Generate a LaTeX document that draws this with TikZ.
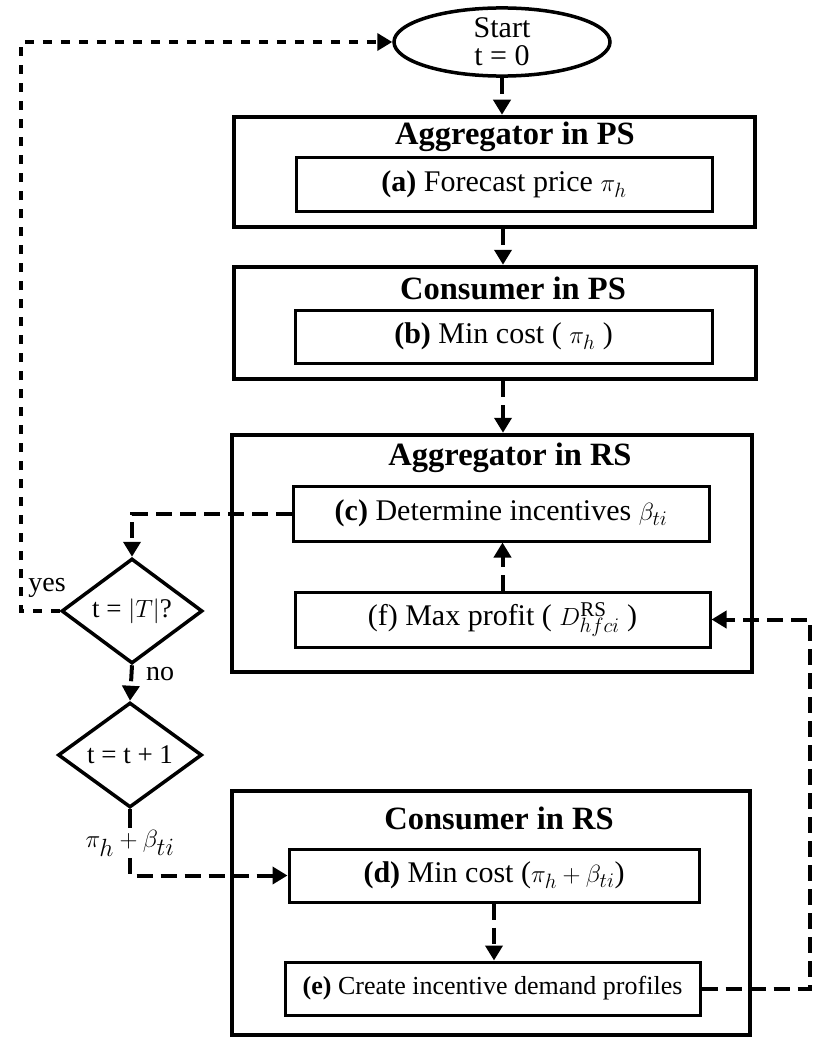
\documentclass[tikz,border=0pt]{standalone}
\usepackage{fontspec}
\setmainfont{Liberation Serif}
\usetikzlibrary{shapes.geometric,arrows.meta,calc}
\begin{document}
\begin{tikzpicture}[x=1pt,y=-1pt,
  outer/.style={draw, line width=4.5pt, inner sep=0pt},
  inbox/.style={draw, line width=3pt, inner sep=0pt, font=\fontsize{30}{34}\selectfont},
  ttl/.style={font=\fontsize{32.5}{36}\selectfont\bfseries, inner sep=0pt},
  dec/.style={draw, diamond, line width=3.5pt, inner sep=0pt, font=\fontsize{27}{31}\selectfont},
  conn/.style={line width=4pt, dash pattern=on 16pt off 8pt, -{Triangle[length=15pt,width=17pt]}},
  loopline/.style={line width=3.5pt, dash pattern=on 9pt off 9pt, -{Triangle[length=15pt,width=17pt]}},
  lbl/.style={font=\fontsize{28}{32}\selectfont, inner sep=1pt}]
\useasboundingbox (0,0) rectangle (813,1038);

% start
\node[draw, ellipse, line width=3.5pt, minimum width=216pt, minimum height=66pt, inner sep=0pt,
  align=center, font=\fontsize{30}{28}\selectfont] (start) at (502,42) {Start\\t = 0};

% outer boxes
\node[outer, minimum width=521pt, minimum height=110pt] (ps1) at (494.5,172) {};
\node[outer, minimum width=522pt, minimum height=112pt] (ps2) at (495,323) {};
\node[outer, minimum width=520pt, minimum height=237pt] (rs1) at (492,553.5) {};
\node[outer, minimum width=518pt, minimum height=244pt] (rs2) at (491,913) {};

% titles
\node[ttl] (t1) at (515,137) {Aggregator in PS};
\node[ttl] (t2) at (513,288) {Consumer in PS};
\node[ttl] (t3) at (510,458) {Aggregator in RS};
\node[ttl] (t4) at (499,818) {Consumer in RS};

% inner boxes
\node[inbox, minimum width=416pt, minimum height=54pt] (a) at (504,184) {\textbf{(a)} Forecast price $\pi_h$};
\node[inbox, minimum width=417pt, minimum height=53pt] (b) at (503.5,336.5) {\textbf{(b)} Min cost ( $\pi_h$ )};
\node[inbox, minimum width=416pt, minimum height=55pt] (c) at (501,513.5) {\textbf{(c)} Determine incentives $\beta_{ti}$};
\node[inbox, minimum width=415pt, minimum height=55pt] (f) at (502.5,619.5) {(f) Max profit ( $D^{\mathrm{RS}}_{hfci}$ )};
\node[inbox, minimum width=410pt, minimum height=53pt] (d) at (494,875.5) {\textbf{(d)} Min cost ($\pi_h+\beta_{ti}$)};
\node[inbox, minimum width=415pt, minimum height=53pt, font=\fontsize{26}{30}\selectfont] (e) at (492.5,988.5) {\textbf{(e)} Create incentive demand profiles};

% decisions
\node[dec, minimum width=141pt, minimum height=105pt] (dia1) at (132,611) {t = $|T|$?};
\node[dec, minimum width=144pt, minimum height=105pt] (dia2) at (130,755) {t = t + 1};

% labels
\node[lbl] (yes) at (47,588) {yes};
\node[lbl] (no) at (160,674) {no};
\node[lbl, font=\fontsize{36}{40}\selectfont, inner sep=2pt] (pl) at (130,843) {$\pi_h+\beta_{ti}$};

% column of the main arrows
\coordinate (col) at (503,0);

% connectors
\draw[conn] (start.south) -- (start.south |- ps1.north);
\draw[conn] (ps1.south -| col) -- (ps2.north -| col);
\draw[conn] (ps2.south -| col) -- (rs1.north -| col);
\draw[conn] (f.north) -- (f.north |- c.south);
\draw[conn] (c.west) -| (dia1.north);
\draw[loopline] (dia1.west) -- ++(-39,0) |- (start.west);
\draw[conn] (dia1.south) -- (dia2.north);
\draw[line width=4pt] (dia2.south) -- (pl.north -| dia2.south);
\draw[conn] (pl.south -| dia2.south) |- (d.west);
\draw[conn] (d.south) -- (d.south |- e.north);
\draw[conn] (e.east) -- ++(108,0) |- (f.east);
\end{tikzpicture}
\end{document}
